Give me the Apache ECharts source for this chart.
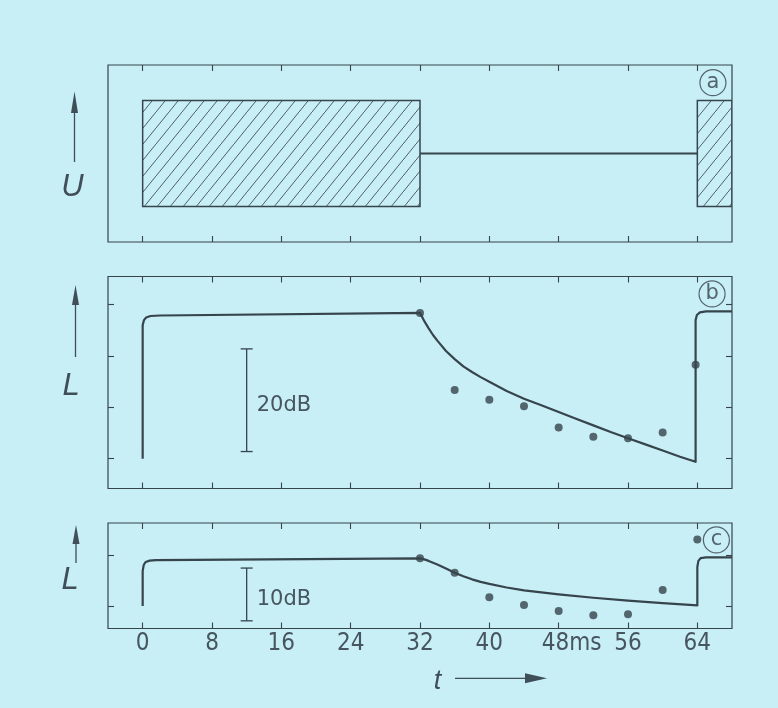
<!DOCTYPE html>
<html>
<head>
<meta charset="utf-8">
<script src="https://cdn.jsdelivr.net/npm/echarts@6/dist/echarts.min.js"></script>
<style>
html,body{margin:0;padding:0;background:#c8eef6;}
#chart{width:778px;height:708px;}
</style>
</head>
<body>
<div id="chart"></div>
<script>
// ---------- data ----------
const timeTicks = [0, 8, 16, 24, 32, 40, 48, 56, 64];
const timeTickLabels = ['0', '8', '16', '24', '32', '40', '48ms', '56', '64'];
const levelTicksB = [0, 10, 20, 30];
const levelTicksC = [0, 10];

// panel a: voltage U (pulse blocks [tStart, tEnd, low, high]) and pause line
const pulseBlocks = [[0, 32, 2, 8], [64, 68, 2, 8]];
const pauseLine = [[32, 5], [64, 5]];

// panel b: level L (dB)
const curveB = [[0, 0], [0, 26], [0.15, 27], [0.4, 27.5], [0.9, 27.8], [2, 27.9], [32, 28.4],
  [32.25, 27.6], [32.5, 26.8], [33, 25.4], [33.5, 24.1], [34, 23.0], [35, 21.0], [36, 19.4],
  [37, 18.0], [38, 16.9], [39, 15.9], [40, 15.0], [42, 13.2], [44, 11.7], [46, 10.4], [48, 9.1],
  [50, 7.8], [52, 6.5], [54, 5.2], [56, 4.0], [58, 2.8], [60, 1.6], [62, 0.4], [63.8, -0.6],
  [63.8, 27], [63.95, 28.0], [64.3, 28.5], [65, 28.7], [68, 28.7]];
const dotsB = [[32, 28.4], [36, 13.4], [40, 11.5], [44, 10.2], [48, 6.1], [52, 4.3], [56, 4.0], [60, 5.1], [63.8, 18.3]];
const scaleBarB = [[12, 1.4, 21.4]];
const scaleLabelB = ['20dB'];

// panel c: level L (dB)
const curveC = [[0, 0], [0, 6.8], [0.12, 8.0], [0.35, 8.6], [0.8, 8.85], [1.5, 8.95], [32, 9.3],
  [32.5, 9.1], [33, 8.8], [34, 8.1], [35, 7.3], [36, 6.5], [37, 5.8], [38, 5.2], [39, 4.7],
  [40, 4.3], [42, 3.6], [44, 3.05], [48, 2.25], [52, 1.6], [56, 1.05], [60, 0.55], [64, 0.1],
  [64, 7.6], [64.12, 8.8], [64.4, 9.35], [65, 9.5], [68, 9.5]];
const dotsC = [[32, 9.3], [36, 6.5], [40, 1.7], [44, 0.2], [48, -1.0], [52, -1.8], [56, -1.6], [60, 3.1], [64, 13.0]];
const scaleBarC = [[12, -2.9, 7.4]];
const scaleLabelC = ['10dB'];

// panel tags (circled letters)
const tagA = [[65.8, 9.0]];
const tagB = [[65.7, 32.1]];
const tagC = [[66.2, 12.9]];
const tagNames = ['a', 'b', 'c'];

// ---------- style ----------
const ink = '#36444c';
const textInk = '#46555e';
const tickFont = '"Liberation Sans Narrow", "DejaVu Sans Condensed", "Roboto Condensed", sans-serif';

function hatchPattern() {
  const w = 13, h = 16;
  const c = document.createElement('canvas');
  c.width = w; c.height = h;
  const g = c.getContext('2d');
  g.strokeStyle = '#4f5f68';
  g.lineWidth = 1;
  g.beginPath();
  g.moveTo(-1, h + h / w); g.lineTo(w + 1, -h / w);
  g.stroke();
  return { image: c, repeat: 'repeat' };
}
const hatch = hatchPattern();

const grids = [
  { left: 108, top: 65, width: 624, height: 177 },
  { left: 108, top: 276.5, width: 624, height: 212 },
  { left: 108, top: 523, width: 624, height: 105.5 }
].map(g => Object.assign(g, { show: true, borderColor: ink, borderWidth: 1.2, backgroundColor: 'transparent' }));

function xAx(gridIndex, position, labels) {
  return {
    type: 'value', gridIndex, position, min: -4, max: 68,
    axisLine: { show: false, onZero: false }, splitLine: { show: false },
    axisTick: { show: true, inside: true, length: 6, customValues: timeTicks, lineStyle: { color: ink, width: 1.1 } },
    axisLabel: labels ? {
      show: true, customValues: timeTicks, margin: 3,
      fontSize: 24, fontFamily: tickFont, color: textInk,
      formatter: v => {
        const s = timeTickLabels[timeTicks.indexOf(v)];
        return s === '48ms' ? '{sp|}{n|' + s + '}' : s;
      },
      rich: {
        sp: { width: 26, fontSize: 24, fontFamily: tickFont },
        n: { fontSize: 24, fontFamily: tickFont, color: textInk }
      }
    } : { show: false }
  };
}
function yAx(gridIndex, position, min, max, ticks) {
  return {
    type: 'value', gridIndex, position, min, max,
    axisLine: { show: false, onZero: false }, splitLine: { show: false },
    axisTick: ticks ? { show: true, inside: true, length: 6, customValues: ticks, lineStyle: { color: ink, width: 1.1 } } : { show: false },
    axisLabel: { show: false }
  };
}

function scaleBarSeries(xi, yi, data, labels) {
  return {
    type: 'custom', xAxisIndex: xi, yAxisIndex: yi, data, silent: true,
    encode: { x: 0, y: [1, 2] },
    renderItem(params, api) {
      const x = api.value(0);
      const top = api.coord([x, api.value(2)]);
      const bot = api.coord([x, api.value(1)]);
      const cap = 6;
      const ls = { stroke: ink, lineWidth: 1.3 };
      return {
        type: 'group', children: [
          { type: 'line', shape: { x1: top[0], y1: top[1], x2: bot[0], y2: bot[1] }, style: ls },
          { type: 'line', shape: { x1: top[0] - cap, y1: top[1], x2: top[0] + cap, y2: top[1] }, style: ls },
          { type: 'line', shape: { x1: bot[0] - cap, y1: bot[1], x2: bot[0] + cap, y2: bot[1] }, style: ls },
          { type: 'text', x: top[0] + 10, y: (top[1] + bot[1]) / 2 + 5.5,
            style: { text: labels[params.dataIndex], fill: textInk, font: '21px "DejaVu Sans", sans-serif', align: 'left', verticalAlign: 'middle' } }
        ]
      };
    }
  };
}
function tagSeries(xi, yi, data, name) {
  return {
    type: 'scatter', xAxisIndex: xi, yAxisIndex: yi, silent: true,
    data: data.map(d => ({ value: d, name })),
    symbol: 'circle', symbolSize: 26,
    itemStyle: { color: 'rgba(0,0,0,0)', borderColor: ink, borderWidth: 1.2 },
    label: { show: true, position: 'inside', formatter: '{b}', fontSize: 21, fontFamily: 'DejaVu Sans, sans-serif', color: ink }
  };
}
function lineSeries(xi, yi, data, w) {
  return {
    type: 'line', xAxisIndex: xi, yAxisIndex: yi, data, symbol: 'none', silent: true,
    lineStyle: { color: ink, width: w, join: 'round' }, clip: true
  };
}
function dotSeries(xi, yi, data) {
  return {
    type: 'scatter', xAxisIndex: xi, yAxisIndex: yi, data, silent: true,
    symbol: 'circle', symbolSize: 8, itemStyle: { color: ink }
  };
}

const arrowStyle = { stroke: '#3f4e57', lineWidth: 1.3 };
function upArrow(x, tip, base, bottom) {
  return [
    { type: 'line', shape: { x1: x, y1: bottom, x2: x, y2: base }, style: arrowStyle },
    { type: 'polygon', shape: { points: [[x, tip], [x - 3.5, base + 1], [x + 3.5, base + 1]] }, style: { fill: '#3f4e57' } }
  ];
}
const nameFont = 'italic 31px "Liberation Sans", Arial, sans-serif';

const option = {
  animation: false,
  backgroundColor: '#c8eef6',
  grid: grids,
  xAxis: [xAx(0, 'bottom', false), xAx(0, 'top', false), xAx(1, 'bottom', false), xAx(1, 'top', false), xAx(2, 'bottom', true), xAx(2, 'top', false)],
  yAxis: [yAx(0, 'left', 0, 10, null), yAx(1, 'left', -5.8, 35.5, levelTicksB), yAx(1, 'right', -5.8, 35.5, levelTicksB),
          yAx(2, 'left', -4.4, 16.2, levelTicksC), yAx(2, 'right', -4.4, 16.2, levelTicksC)],
  series: [
    {
      type: 'custom', xAxisIndex: 0, yAxisIndex: 0, data: pulseBlocks, clip: true, silent: true,
      encode: { x: [0, 1], y: [2, 3] },
      renderItem(params, api) {
        const p0 = api.coord([api.value(0), api.value(3)]);
        const p1 = api.coord([api.value(1), api.value(2)]);
        const cs = params.coordSys;
        const shape = echarts.graphic.clipRectByRect(
          { x: p0[0], y: p0[1], width: p1[0] - p0[0], height: p1[1] - p0[1] },
          { x: cs.x, y: cs.y, width: cs.width, height: cs.height });
        return shape && { type: 'rect', shape, style: { fill: hatch, stroke: ink, lineWidth: 1.5 } };
      }
    },
    lineSeries(0, 0, pauseLine, 2),
    tagSeries(0, 0, tagA, tagNames[0]),
    lineSeries(2, 1, curveB, 2.2),
    dotSeries(2, 1, dotsB),
    scaleBarSeries(2, 1, scaleBarB, scaleLabelB),
    tagSeries(2, 1, tagB, tagNames[1]),
    lineSeries(4, 3, curveC, 2.2),
    dotSeries(4, 3, dotsC),
    scaleBarSeries(4, 3, scaleBarC, scaleLabelC),
    tagSeries(4, 3, tagC, tagNames[2])
  ],
  graphic: [
    ...upArrow(74.5, 91.5, 112, 162),
    { type: 'text', x: 72.5, y: 187, style: { text: 'U', font: nameFont, fill: '#3f4e57', align: 'center', verticalAlign: 'middle' } },
    ...upArrow(75.5, 285, 304, 357),
    { type: 'text', x: 71, y: 386, style: { text: 'L', font: nameFont, fill: '#3f4e57', align: 'center', verticalAlign: 'middle' } },
    ...upArrow(76, 525, 543, 563),
    { type: 'text', x: 70, y: 580, style: { text: 'L', font: nameFont, fill: '#3f4e57', align: 'center', verticalAlign: 'middle' } },
    { type: 'text', x: 437.5, y: 681, style: { text: 't', font: 'italic 27px "Liberation Sans", Arial, sans-serif', fill: '#3f4e57', align: 'center', verticalAlign: 'middle' } },
    { type: 'line', shape: { x1: 455, y1: 678.3, x2: 528, y2: 678.3 }, style: arrowStyle },
    { type: 'polygon', shape: { points: [[547, 678.3], [525, 673.3], [525, 683.3]] }, style: { fill: '#3f4e57' } }
  ]
};

const chart = echarts.init(document.getElementById('chart'), null, { renderer: 'canvas' });
chart.setOption(option);
</script>
</body>
</html>
